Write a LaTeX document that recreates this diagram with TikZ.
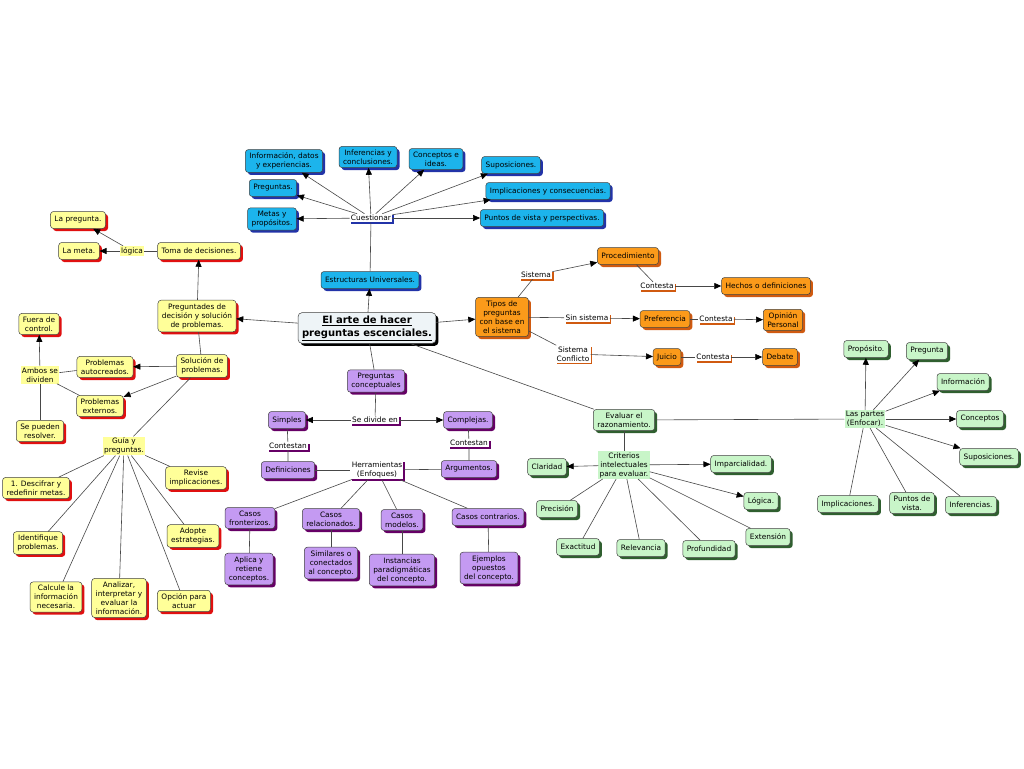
\documentclass[tikz,border=0pt]{standalone}
\usepackage{fontspec}
\setmainfont{DejaVu Sans}
\usetikzlibrary{shadows,arrows.meta}
\definecolor{bF}{HTML}{1CB4EC}
\definecolor{bS}{HTML}{2233A8}
\definecolor{yF}{HTML}{FFFF99}
\definecolor{yS}{HTML}{E01010}
\definecolor{pF}{HTML}{C49AF2}
\definecolor{pS}{HTML}{660066}
\definecolor{oF}{HTML}{FB9A1A}
\definecolor{oS}{HTML}{D05A10}
\definecolor{gF}{HTML}{C8F5C8}
\definecolor{gS}{HTML}{2F5F2F}
\definecolor{cF}{HTML}{EEF4F7}
\newcommand{\fs}{\fontsize{7.4}{9}\selectfont}
\tikzset{
  box/.style={draw=black!75, rounded corners=3pt, align=center, font=\fs, inner xsep=4pt, inner ysep=3.2pt, minimum height=17pt, line width=0.5pt},
  shd/.style={general shadow={fill=#1, rounded corners=3pt, shadow xshift=2.5pt, shadow yshift=-2.5pt}},
  bluebox/.style={box, fill=bF, shd=bS},
  yelbox/.style={box, fill=yF, shd=yS},
  purbox/.style={box, fill=pF, shd=pS},
  orabox/.style={box, fill=oF, shd=oS},
  grebox/.style={box, fill=gF, shd=gS},
  lbl/.style={align=center, font=\fs, inner sep=1.2pt, fill=white},
  ulbl/.style={lbl, general shadow={fill=#1, shadow xshift=1.5pt, shadow yshift=-1.5pt}},
  bglbl/.style={lbl, fill=#1},
  conn/.style={draw=black!72, line width=0.6pt},
  arr/.style={conn, -{Triangle[length=7pt,width=6pt,color=black]}},
}
\begin{document}
\begin{tikzpicture}[x=1pt,y=-1pt]
\useasboundingbox[fill=white] (0,0) rectangle (1024,768);

% central
\node[box, fill=cF, rounded corners=4pt, font=\bfseries\fontsize{10}{13}\selectfont, inner xsep=4pt, inner ysep=3pt,
  general shadow={fill=black, rounded corners=4pt, shadow xshift=2.5pt, shadow yshift=-2.5pt}] (main) at (367,328)
  {\underline{El arte de hacer}\\\underline{preguntas escenciales.}};

% blue
\node[bluebox] (b1) at (284,161) {Información, datos\\y experiencias.};
\node[bluebox] (b2) at (368,157) {Inferencias y\\conclusiones.};
\node[bluebox] (b3) at (436,159) {Conceptos e\\ideas.};
\node[bluebox] (b4) at (511,165) {Suposiciones.};
\node[bluebox] (b5) at (273,188) {Preguntas.};
\node[bluebox] (b6) at (548,191) {Implicaciones y consecuencias.};
\node[bluebox] (b7) at (272,219) {Metas y\\propósitos.};
\node[bluebox] (b8) at (542,218) {Puntos de vista y perspectivas.};
\node[ulbl=bS] (cuest) at (371,218) {Cuestionar};
\node[bluebox] (estr) at (370,280) {Estructuras Universales.};

% yellow
\node[yelbox] (ypreg) at (78,220) {La pregunta.};
\node[yelbox] (ymeta) at (79,251) {La meta.};
\node[bglbl=yF] (logica) at (132,251) {lógica};
\node[yelbox] (toma) at (199,251) {Toma de decisiones.};
\node[yelbox] (pdec) at (197,316) {Preguntades de\\decisión y solución\\de problemas.};
\node[yelbox] (fuera) at (39,324) {Fuera de\\control.};
\node[yelbox] (sol) at (202,366) {Solución de\\problemas.};
\node[yelbox] (auto) at (105,367) {Problemas\\autocreados.};
\node[bglbl=yF] (ambos) at (40,375) {Ambos se\\dividen};
\node[yelbox] (ext) at (100,406) {Problemas\\externos.};
\node[yelbox] (resol) at (40,431) {Se pueden\\resolver.};
\node[bglbl=yF] (guia) at (124,446) {Guía y\\preguntas.};
\node[yelbox] (g1) at (36,488) {1. Descifrar y\\redefinir metas.};
\node[yelbox] (g2) at (196,478) {Revise\\implicaciones.};
\node[yelbox] (g3) at (38,543) {Identifique\\problemas.};
\node[yelbox] (g4) at (193,536) {Adopte\\estrategias.};
\node[yelbox] (g5) at (56,597) {Calcule la\\información\\necesaria.};
\node[yelbox] (g6) at (119,598) {Analizar,\\interpretar y\\evaluar la\\información.};
\node[yelbox] (g7) at (184,601) {Opción para\\actuar};

% purple
\node[purbox] (pc) at (376,381) {Preguntas\\conceptuales};
\node[purbox] (simp) at (287,420) {Simples};
\node[ulbl=pS] (divide) at (375,420) {Se divide en};
\node[purbox] (comp) at (468,420) {Complejas.};
\node[ulbl=pS] (cont1) at (288,446) {Contestan};
\node[ulbl=pS] (cont2) at (469,443) {Contestan};
\node[purbox] (defi) at (288,470) {Definiciones};
\node[ulbl=pS] (herr) at (377,470) {Herramientas\\(Enfoques)};
\node[purbox] (argu) at (469,469) {Argumentos.};
\node[purbox] (cf) at (250,518) {Casos\\fronterizos.};
\node[purbox] (cr) at (331,519) {Casos\\relacionados.};
\node[purbox] (cm) at (402,520) {Casos\\modelos.};
\node[purbox] (cc) at (488,517) {Casos contrarios.};
\node[purbox] (d1) at (249,569) {Aplica y\\retiene\\conceptos.};
\node[purbox] (d2) at (331,563) {Similares o\\conectados\\al concepto.};
\node[purbox] (d3) at (402,570) {Instancias\\paradigmáticas\\del concepto.};
\node[purbox] (d4) at (489,568) {Ejemplos\\opuestos\\del concepto.};

% orange
\node[orabox] (tipos) at (502,317) {Tipos de\\preguntas\\con base en\\el sistema};
\node[ulbl=oS] (sis) at (536,275) {Sistema};
\node[orabox] (proc) at (628,256) {Procedimiento};
\node[ulbl=oS] (contA) at (657,286) {Contesta};
\node[orabox] (hech) at (766,286) {Hechos o definiciones};
\node[ulbl=oS] (sinsis) at (587,318) {Sin sistema};
\node[orabox] (pref) at (665,319) {Preferencia};
\node[ulbl=oS] (contB) at (716,319) {Contesta};
\node[orabox] (opin) at (783,320) {Opinión\\Personal};
\node[ulbl=oS] (conf) at (573,354) {Sistema\\Conflicto};
\node[orabox] (juic) at (667,357) {Juicio};
\node[ulbl=oS] (contC) at (713,357) {Contesta};
\node[orabox] (deb) at (780,357) {Debate};

% green
\node[grebox] (eval) at (624,420) {Evaluar el\\razonamiento.};
\node[bglbl=gF] (crit) at (624,465) {Criterios\\intelectuales\\para evaluar.};
\node[grebox] (clar) at (547,467) {Claridad};
\node[grebox] (impa) at (741,464) {Imparcialidad.};
\node[grebox] (prec) at (557,509) {Precisión};
\node[grebox] (logi) at (761,501) {Lógica.};
\node[grebox] (exten) at (768,537) {Extensión};
\node[grebox] (exac) at (578,547) {Exactitud};
\node[grebox] (rele) at (641,548) {Relevancia};
\node[grebox] (prof) at (709,549) {Profundidad};
\node[bglbl=gF] (partes) at (865,419) {Las partes\\(Enfocar).};
\node[grebox] (prop) at (866,349) {Propósito.};
\node[grebox] (pregu) at (927,351) {Pregunta};
\node[grebox] (info) at (963,382) {Información};
\node[grebox] (conc) at (980,419) {Conceptos};
\node[grebox] (supo) at (989,457) {Suposiciones.};
\node[grebox] (impl) at (848,504) {Implicaciones.};
\node[grebox] (pv) at (912,503) {Puntos de\\vista.};
\node[grebox] (infe) at (971,505) {Inferencias.};

% connectors: central
\draw[arr] (main) -- (estr);
\draw[conn] (estr) -- (cuest);
\foreach \t in {b1,b2,b3,b4,b5,b6,b7,b8} \draw[arr] (cuest) -- (\t);
\draw[arr] (main) -- (pdec);
\draw[arr] (main) -- (tipos);
\draw[conn] (main) -- (pc);
\draw[conn] (main) -- (eval);

% yellow
\draw[arr] (pdec) -- (toma);
\draw[conn] (toma) -- (logica);
\draw[arr] (logica) -- (ymeta);
\draw[arr] (logica) -- (ypreg);
\draw[conn] (pdec) -- (sol);
\draw[arr] (sol) -- (auto);
\draw[arr] (sol) -- (ext);
\draw[conn] (sol) -- (guia);
\draw[conn] (auto) -- (ambos);
\draw[conn] (ext) -- (ambos);
\draw[arr] (ambos) -- (fuera);
\draw[conn] (ambos) -- (resol);
\foreach \t in {g1,g2,g3,g4,g5,g6,g7} \draw[conn] (guia) -- (\t);

% purple
\draw[conn] (pc) -- (divide);
\draw[arr] (divide) -- (simp);
\draw[arr] (divide) -- (comp);
\draw[conn] (simp) -- (cont1) -- (defi);
\draw[conn] (comp) -- (cont2) -- (argu);
\draw[conn] (defi) -- (herr);
\draw[conn] (herr) -- (argu);
\foreach \t in {cf,cr,cm,cc} \draw[conn] (herr) -- (\t);
\draw[conn] (cf) -- (d1);
\draw[conn] (cr) -- (d2);
\draw[conn] (cm) -- (d3);
\draw[conn] (cc) -- (d4);

% orange
\draw[conn] (tipos) -- (sis);
\draw[arr] (sis) -- (proc);
\draw[conn] (proc) -- (contA);
\draw[arr] (contA) -- (hech);
\draw[conn] (tipos) -- (sinsis);
\draw[arr] (sinsis) -- (pref);
\draw[conn] (pref) -- (contB);
\draw[arr] (contB) -- (opin);
\draw[conn] (tipos) -- (conf);
\draw[arr] (conf) -- (juic);
\draw[conn] (juic) -- (contC);
\draw[arr] (contC) -- (deb);

% green
\draw[conn] (eval) -- (crit);
\draw[arr] (crit) -- (clar);
\draw[arr] (crit) -- (impa);
\draw[arr] (crit) -- (logi);
\foreach \t in {prec,exac,rele,prof,exten} \draw[conn] (crit) -- (\t);
\draw[conn] (eval) -- (partes);
\foreach \t in {prop,pregu,info,conc,supo} \draw[arr] (partes) -- (\t);
\foreach \t in {impl,pv,infe} \draw[conn] (partes) -- (\t);
\end{tikzpicture}
\end{document}
